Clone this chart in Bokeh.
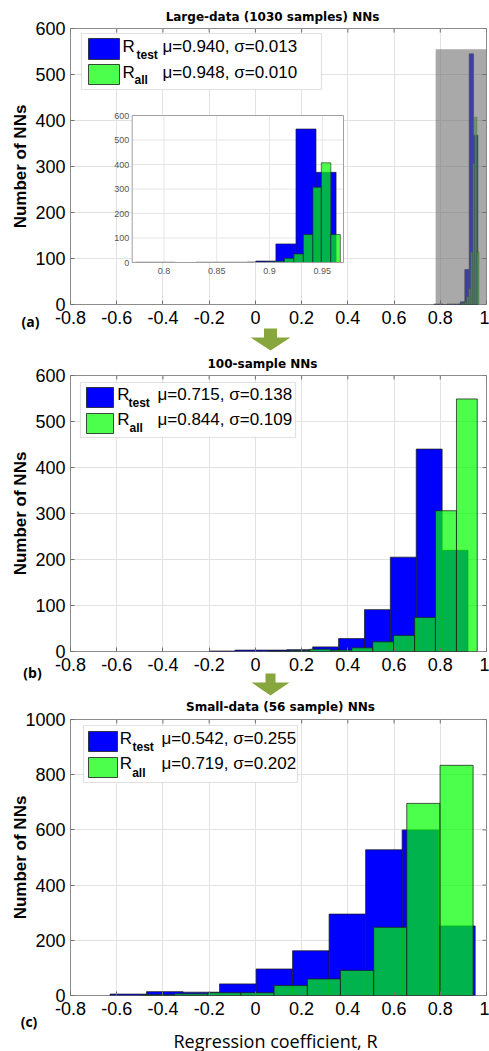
import math
from bokeh.plotting import figure
from bokeh.models import Range1d, FixedTicker, BoxAnnotation, Label
from bokeh.layouts import column
from bokeh.embed import file_html
from bokeh.resources import INLINE
from bokeh.core.properties import value

# ---------------- data ----------------
x_ticks = [-0.8, -0.6, -0.4, -0.2, 0, 0.2, 0.4, 0.6, 0.8, 1]
x_tick_labels = ["-0.8", "-0.6", "-0.4", "-0.2", "0", "0.2", "0.4", "0.6", "0.8", "1"]
y_ticks_ab = [0, 100, 200, 300, 400, 500, 600]
y_ticks_c = [0, 200, 400, 600, 800, 1000]

titles = ["Large-data (1030 samples) NNs", "100-sample NNs", "Small-data (56 sample) NNs"]
stats_test = ["\u03bc=0.940, \u03c3=0.013", "\u03bc=0.715, \u03c3=0.138", "\u03bc=0.542, \u03c3=0.255"]
stats_all = ["\u03bc=0.948, \u03c3=0.010", "\u03bc=0.844, \u03c3=0.109", "\u03bc=0.719, \u03c3=0.202"]
panel_tags = ["(a)", "(b)", "(c)"]
y_label = "Number of NNs"
x_label = "Regression coefficient, R"

# (a) large-data NNs
a_test_edges = [0.773, 0.792, 0.811, 0.830, 0.849, 0.868, 0.887, 0.906, 0.925, 0.944, 0.963]
a_test_counts = [1, 1, 0, 1, 1, 1, 6, 76, 545, 368]
a_all_edges = [0.879, 0.888, 0.897, 0.905, 0.914, 0.923, 0.932, 0.941, 0.949, 0.958, 0.967]
a_all_counts = [1, 2, 3, 5, 17, 35, 114, 307, 407, 114]
# (b) 100-sample NNs
b_test_edges = [-0.200, -0.088, 0.024, 0.136, 0.248, 0.360, 0.472, 0.584, 0.696, 0.808, 0.920]
b_test_counts = [1, 3, 3, 4, 10, 28, 91, 205, 440, 220]
b_all_edges = [0.055, 0.146, 0.236, 0.327, 0.417, 0.508, 0.598, 0.689, 0.779, 0.870, 0.960]
b_all_counts = [1, 2, 5, 3, 8, 21, 35, 74, 306, 549]
# (c) small-data NNs
c_test_edges = [-0.629, -0.471, -0.313, -0.155, 0.003, 0.161, 0.319, 0.477, 0.635, 0.793, 0.951]
c_test_counts = [5, 14, 12, 42, 96, 162, 295, 528, 600, 252]
c_all_edges = [-0.493, -0.350, -0.206, -0.063, 0.081, 0.225, 0.368, 0.512, 0.655, 0.799, 0.942]
c_all_counts = [3, 6, 10, 10, 36, 60, 91, 247, 696, 834]

# inset of (a)
inset_xlim = [0.77, 0.97]
inset_ylim = [0, 600]
inset_x_ticks = [0.8, 0.85, 0.9, 0.95]
inset_x_labels = ["0.8", "0.85", "0.9", "0.95"]
inset_y_ticks = [0, 100, 200, 300, 400, 500, 600]
inset_y_labels = ["0", "100", "200", "300", "400", "500", "600"]
highlight_x = [0.78, 1.0]
highlight_top = 555

# ---------------- styles / layout ----------------
BLUE = "#0000ff"
GREEN = "#00ff00"
GREEN_ALPHA = 0.7
EDGE = "#1e1e1e"
GRID = "#e2e2e2"
FRAME = "#8c8c8c"
TICKC = "#707070"
ARROW = "#88a63e"
TICK_FONT = "Liberation Sans"

W = 489
TOTAL_H = 1051
FL, FR = 70, 486  # page x of plot frames
TICK_LEN = 4


def make_panel(page_top, height, ftop, fbot, ymax, yticks):
    p = figure(width=W, height=height, x_range=Range1d(-0.8, 1.0), y_range=Range1d(0, ymax),
               output_backend="svg", toolbar_location=None, frame_align=False,
               min_border_left=FL, min_border_right=W - FR,
               min_border_top=ftop - page_top, min_border_bottom=page_top + height - fbot,
               background_fill_color="white", border_fill_color="white")
    p.outline_line_color = FRAME
    p.outline_line_width = 1
    p.xaxis.ticker = FixedTicker(ticks=x_ticks)
    p.xaxis.major_label_overrides = dict(zip(x_ticks, x_tick_labels))
    p.yaxis.ticker = FixedTicker(ticks=yticks)
    for ax in (p.xaxis[0], p.yaxis[0]):
        ax.major_label_text_font = TICK_FONT
        ax.major_label_text_font_size = "18px"
        ax.major_label_text_color = "black"
        ax.axis_line_color = None
        ax.major_tick_in = TICK_LEN
        ax.major_tick_out = 0
        ax.major_tick_line_color = TICKC
        ax.minor_tick_line_color = None
    p.xaxis.major_label_standoff = 6
    p.yaxis.major_label_standoff = 5
    p.xgrid.grid_line_color = GRID
    p.ygrid.grid_line_color = GRID
    # inward ticks on the top and right edges of the box
    dx = TICK_LEN * 1.8 / (FR - FL)
    dy = TICK_LEN * ymax / (fbot - ftop)
    p.segment(x0=x_ticks, x1=x_ticks, y0=ymax, y1=ymax - dy, line_color=TICKC, line_width=1)
    p.segment(x0=1.0, x1=1.0 - dx, y0=yticks, y1=yticks, line_color=TICKC, line_width=1)

    def X(px):
        return -0.8 + (px - FL) / (FR - FL) * 1.8

    def Y(py):
        return (fbot - py) / (fbot - ftop) * ymax

    return p, X, Y


def bars(p, edges, counts, color, alpha, lw=1, **kw):
    p.quad(left=edges[:-1], right=edges[1:], bottom=0, top=counts,
           fill_color=color, fill_alpha=alpha, line_color=EDGE, line_alpha=0.75, line_width=lw, **kw)


def label(p, x, y, text, size, font=TICK_FONT, style="normal", align="left"):
    p.add_layout(Label(x=x, y=y, text=text, text_font=font, text_font_size=f"{size}px",
                       text_font_style=style, text_align=align, text_baseline="middle",
                       text_color="black"))


def legend(p, X, Y, box, patch_x, rows, r_x, sub_x, txt_x, txt_y, sub_y, stats):
    p.add_layout(BoxAnnotation(left=X(box[0]), right=X(box[1]), top=Y(box[2]), bottom=Y(box[3]),
                               fill_color="white", fill_alpha=1, line_color="#9a9a9a", line_width=1.2))
    colors = [(BLUE, 1.0), (GREEN, GREEN_ALPHA)]
    subs = ["test", "all"]
    for i in range(2):
        c, a = colors[i]
        p.add_layout(BoxAnnotation(left=X(patch_x[0]), right=X(patch_x[1]), top=Y(rows[i][0]),
                                   bottom=Y(rows[i][1]), fill_color=c, fill_alpha=a,
                                   line_color=EDGE, line_alpha=0.8, line_width=1))
        label(p, X(r_x), Y(txt_y[i]), "R", 17)
        label(p, X(sub_x[i]), Y(sub_y[i]), subs[i], 12, style="bold")
        label(p, X(txt_x), Y(txt_y[i]), stats[i], 17)


# ---------------- panel (a) ----------------
pa, Xa, Ya = make_panel(0, 351, 28, 304, 600, y_ticks_ab)
bars(pa, a_test_edges, a_test_counts, BLUE, 1.0, lw=0.8)
bars(pa, a_all_edges, a_all_counts, GREEN, GREEN_ALPHA, lw=0.6)
pa.add_layout(BoxAnnotation(left=highlight_x[0], right=highlight_x[1], bottom=0, top=highlight_top,
                            fill_color="#6a6a6a", fill_alpha=0.58, line_color=None))

# inset, drawn through its own ranges
ib_left, ib_right, ib_top, ib_bot = 131.7, 343.0, 115, 262
ax_u = (inset_xlim[1] - inset_xlim[0]) / (ib_right - ib_left)
ay_u = (inset_ylim[1] - inset_ylim[0]) / (ib_bot - ib_top)
ix0 = inset_xlim[0] - (ib_left - FL) * ax_u
iy0 = inset_ylim[0] - (304 - ib_bot) * ay_u
pa.extra_x_ranges = {"ix": Range1d(ix0, ix0 + (FR - FL) * ax_u)}
pa.extra_y_ranges = {"iy": Range1d(iy0, iy0 + (304 - 28) * ay_u)}
ins = dict(x_range_name="ix", y_range_name="iy")
pa.quad(left=[inset_xlim[0]], right=[inset_xlim[1]], bottom=[inset_ylim[0]], top=[inset_ylim[1]],
        fill_color="white", line_color=None, **ins)
pa.segment(x0=inset_x_ticks, x1=inset_x_ticks, y0=inset_ylim[0], y1=inset_ylim[1],
           line_color="#e6e6e6", line_width=1, **ins)
pa.segment(x0=inset_xlim[0], x1=inset_xlim[1], y0=inset_y_ticks[1:-1], y1=inset_y_ticks[1:-1],
           line_color="#e6e6e6", line_width=1, **ins)
bars(pa, a_test_edges, a_test_counts, BLUE, 1.0, lw=0.8, **ins)
bars(pa, a_all_edges, a_all_counts, GREEN, GREEN_ALPHA, lw=0.8, **ins)
pa.quad(left=[inset_xlim[0]], right=[inset_xlim[1]], bottom=[inset_ylim[0]], top=[inset_ylim[1]],
        fill_color=None, line_color="#a0a0a0", line_width=1, **ins)
pa.text(x=inset_x_ticks, y=inset_ylim[0] - 8 * ay_u, text=inset_x_labels,
        text_font=value(TICK_FONT), text_font_size="9px", text_color="#555555",
        text_align="center", text_baseline="middle", **ins)
pa.text(x=inset_xlim[0] - 3 * ax_u, y=inset_y_ticks, text=inset_y_labels,
        text_font=value(TICK_FONT), text_font_size="9px", text_color="#555555",
        text_align="right", text_baseline="middle", **ins)

legend(pa, Xa, Ya, (81, 321, 33, 89), (88, 119), [(38, 59), (64, 84)], 122, (136, 134), 162,
       (45.5, 71.5), (54, 79), [stats_test[0], stats_all[0]])

# ---------------- panel (b) ----------------
pb, Xb, Yb = make_panel(351, 345, 375, 651, 600, y_ticks_ab)
bars(pb, b_test_edges, b_test_counts, BLUE, 1.0)
bars(pb, b_all_edges, b_all_counts, GREEN, GREEN_ALPHA)
legend(pb, Xb, Yb, (80, 295, 382, 437), (86, 113), [(387, 407), (413, 433)], 116.7, (128, 129),
       157, (394, 419), (402.5, 427.5), [stats_test[1], stats_all[1]])

# ---------------- panel (c) ----------------
pc, Xc, Yc = make_panel(696, 355, 719, 995, 1000, y_ticks_c)
bars(pc, c_test_edges, c_test_counts, BLUE, 1.0)
bars(pc, c_all_edges, c_all_counts, GREEN, GREEN_ALPHA)
legend(pc, Xc, Yc, (83, 297, 725, 782), (88, 117), [(731, 751), (757, 777)], 119.3, (132, 131.7),
       161, (738, 763), (746.5, 772), [stats_test[2], stats_all[2]])

# ---------------- page overlay: titles, axis labels, panel tags, arrows ----------------
ov = figure(width=W, height=TOTAL_H, x_range=Range1d(0, W), y_range=Range1d(TOTAL_H, 0),
            output_backend="svg", toolbar_location=None, x_axis_location=None, y_axis_location=None,
            frame_align=False,
            min_border=0, min_border_left=0, min_border_right=0, min_border_top=0, min_border_bottom=0,
            background_fill_alpha=0, border_fill_alpha=0, outline_line_color=None,
            margin=(-TOTAL_H, 0, 0, 0))
ov.grid.visible = False

ov.text(x=[272, 262, 280], y=[16, 363, 706], text=titles, text_font=value("DejaVu Sans"),
        text_font_style="bold", text_font_size="12px", text_color="black",
        text_align="center", text_baseline="middle")
ov.text(x=[20, 20, 20], y=[166, 513, 857], text=[y_label] * 3, angle=math.pi / 2,
        text_font=value(TICK_FONT), text_font_style="bold", text_font_size="17px", text_color="black",
        text_align="center", text_baseline="middle")
ov.text(x=[30, 32, 28.5], y=[321, 672, 1021], text=panel_tags, text_font=value("Open Sans"),
        text_font_style="bold", text_font_size="14px", text_color="black",
        text_align="center", text_baseline="middle")
ov.text(x=[275], y=[1040], text=[x_label], text_font=value("Open Sans"), text_font_size="18px",
        text_color="black", text_align="center", text_baseline="middle")


def arrow_xy(cx, y_top, y_neck, y_tip, shaft_w, head_w):
    xs = [cx - shaft_w / 2, cx + shaft_w / 2, cx + shaft_w / 2, cx + head_w / 2, cx,
          cx - head_w / 2, cx - shaft_w / 2]
    ys = [y_top, y_top, y_neck, y_neck, y_tip, y_neck, y_neck]
    return xs, ys


for args in [(270, 328, 337, 350, 13, 40), (270, 673, 682, 695, 10, 38)]:
    axs, ays = arrow_xy(*args)
    ov.patch(x=axs, y=ays, fill_color=ARROW, line_color=None)

layout = column(pa, pb, pc, ov, spacing=0)
open("out.html", "w").write(file_html(layout, INLINE))
